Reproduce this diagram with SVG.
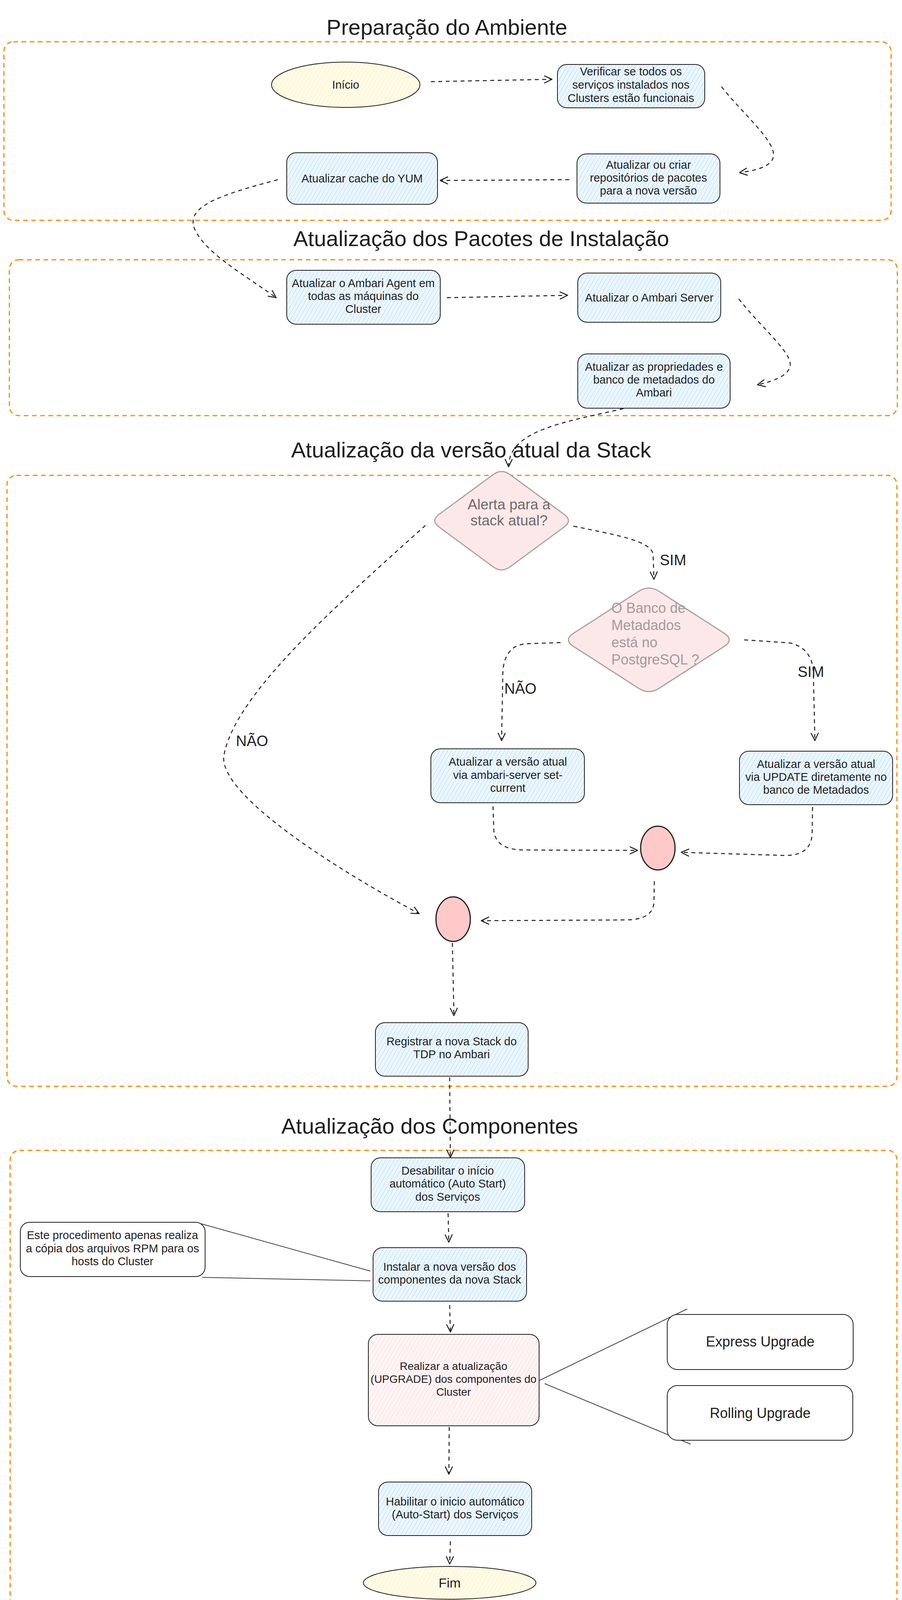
<svg xmlns="http://www.w3.org/2000/svg" width="2309" height="4265" viewBox="0 0 2309 4265">
<style>
.frame{fill:none;stroke:#f08c00;stroke-width:3;stroke-dasharray:12 9}
.title{font-family:"Liberation Sans",Arial,sans-serif;font-size:56px;fill:#1e1e1e;text-anchor:middle}
.box{stroke:#1e1e1e;stroke-width:2}
.blue{fill:url(#hBlue)}
.pinkh{fill:url(#hPink)}
.yellow{fill:url(#hYellow)}
.white{fill:#ffffff}
.t{font-family:"Liberation Sans",Arial,sans-serif;font-size:29px;fill:#1e1e1e;text-anchor:middle}
.tl{font-family:"Liberation Sans",Arial,sans-serif;font-size:36px;fill:#1e1e1e;text-anchor:middle}
.lbl{font-family:"Liberation Sans",Arial,sans-serif;font-size:38px;fill:#1e1e1e}
.dia{fill:#fde8e9;stroke:#a8a0a0;stroke-width:3}
.merge{fill:#ffc9c9;stroke:#1e1e1e;stroke-width:3}
.conn{fill:none;stroke:#1e1e1e;stroke-width:2.5;stroke-dasharray:10 9;marker-end:url(#ah)}
.link{fill:none;stroke:#444;stroke-width:2}
</style>
<defs>
<pattern id="hBlue" patternUnits="userSpaceOnUse" width="9" height="9" patternTransform="rotate(30)"><rect width="9" height="9" fill="#edf7ff"/><line x1="0" y1="0" x2="0" y2="9" stroke="#a5d8ff" stroke-width="2"/></pattern>
<pattern id="hPink" patternUnits="userSpaceOnUse" width="9" height="9" patternTransform="rotate(30)"><rect width="9" height="9" fill="#fff6f6"/><line x1="0" y1="0" x2="0" y2="9" stroke="#ffd0d0" stroke-width="2"/></pattern>
<pattern id="hYellow" patternUnits="userSpaceOnUse" width="9" height="9" patternTransform="rotate(30)"><rect width="9" height="9" fill="#fffbe8"/><line x1="0" y1="0" x2="0" y2="9" stroke="#fff0b0" stroke-width="2"/></pattern>
<marker id="ah" viewBox="-22 -13 26 26" refX="0" refY="0" markerWidth="26" markerHeight="26" markerUnits="userSpaceOnUse" orient="auto"><path d="M-19,-9 L0,0 L-19,9" fill="none" stroke="#1e1e1e" stroke-width="2.5" stroke-linecap="round" stroke-linejoin="round"/></marker>
</defs>
<rect width="2309" height="4265" fill="#ffffff"/>

<g id="sections">
<g id="section-preparacao"><rect class="frame" x="10" y="107" width="2271" height="457" rx="24"/><text class="title" x="1144" y="89">Preparação do Ambiente</text></g>
<g id="section-pacotes"><rect class="frame" x="24" y="665" width="2273" height="399" rx="24"/><text class="title" x="1232" y="630">Atualização dos Pacotes de Instalação</text></g>
<g id="section-stack"><rect class="frame" x="18" y="1217" width="2278" height="1564" rx="24"/><text class="title" x="1206" y="1171">Atualização da versão atual da Stack</text></g>
<g id="section-componentes"><rect class="frame" x="26" y="2945" width="2270" height="1310" rx="24"/><text class="title" x="1100" y="2902">Atualização dos Componentes</text></g>
</g>

<g id="connectors">
<path class="conn" d="M1103,209 L1413,203"/>
<path class="conn" d="M1847,222 C1900,290 1985,360 1980,400 C1976,425 1940,436 1893,442"/>
<path class="conn" d="M1457,460 L1127,462"/>
<path class="conn" d="M711,460 C560,500 470,530 500,590 C530,650 620,700 707,762"/>
<path class="conn" d="M1144,762 L1453,756"/>
<path class="conn" d="M1891,765 C1950,840 2025,900 2023,935 C2020,960 1985,975 1939,985"/>
<path class="conn" d="M1596,1046 C1450,1080 1302,1100 1302,1195"/>
<path class="conn" d="M1468,1347 C1580,1370 1668,1385 1672,1420 L1674,1483"/>
<path class="conn" d="M1435,1645 L1346,1648 C1300,1652 1287,1690 1287,1730 L1284,1896"/>
<path class="conn" d="M1905,1638 L2023,1646 C2060,1655 2080,1680 2082,1720 L2086,1896"/>
<path class="conn" d="M1089,1345 C850,1560 600,1780 573,1935 C560,2035 860,2225 1073,2339"/>
<path class="conn" d="M1262,2064 L1264,2125 C1268,2165 1300,2176 1345,2176 L1632,2177"/>
<path class="conn" d="M2080,2066 L2079,2135 C2077,2175 2050,2190 2010,2190 L1744,2182"/>
<path class="conn" d="M1675,2256 L1674,2310 C1672,2345 1640,2355 1600,2355 L1232,2357"/>
<path class="conn" d="M1158,2414 L1162,2600"/>
<path class="conn" d="M1151,2758 L1153,2963"/>
<path class="conn" d="M1147,3106 L1149,3180"/>
<path class="conn" d="M1151,3341 L1153,3410"/>
<path class="conn" d="M1150,3653 L1149,3774"/>
<path class="conn" d="M1153,3946 L1151,4004"/>
<path class="link" d="M512,3132 L948,3254"/>
<path class="link" d="M518,3270 L948,3279"/>
<path class="link" d="M1360,3544 L1759,3351"/>
<path class="link" d="M1394,3542 L1768,3697"/>
<text class="lbl" x="1689" y="1447">SIM</text>
<text class="lbl" x="1291" y="1776">NÃO</text>
<text class="lbl" x="2042" y="1733">SIM</text>
<text class="lbl" x="604" y="1910">NÃO</text>
</g>

<g id="inicio"><ellipse class="box yellow" cx="885" cy="217" rx="190" ry="58"/><text class="t" x="885" y="227">Início</text></g>
<g id="verificar"><rect class="box blue" x="1427" y="165" width="377" height="111" rx="24"/><text class="t" x="1615" y="193">Verificar se todos os</text><text class="t" x="1615" y="227">serviços instalados nos</text><text class="t" x="1615" y="261">Clusters estão funcionais</text></g>
<g id="repositorios"><rect class="box blue" x="1477" y="394" width="366" height="126" rx="24"/><text class="t" x="1660" y="432">Atualizar ou criar</text><text class="t" x="1660" y="465">repositórios de pacotes</text><text class="t" x="1660" y="498">para a nova versão</text></g>
<g id="cache-yum"><rect class="box blue" x="734" y="391" width="386" height="132" rx="24"/><text class="t" x="927" y="467">Atualizar cache do YUM</text></g>
<g id="ambari-agent"><rect class="box blue" x="734" y="692" width="393" height="138" rx="24"/><text class="t" x="930" y="735">Atualizar o Ambari Agent em</text><text class="t" x="930" y="768">todas as máquinas do</text><text class="t" x="930" y="801">Cluster</text></g>
<g id="ambari-server"><rect class="box blue" x="1479" y="699" width="366" height="126" rx="24"/><text class="t" x="1662" y="772">Atualizar o Ambari Server</text></g>
<g id="propriedades"><rect class="box blue" x="1479" y="906" width="390" height="139" rx="24"/><text class="t" x="1674" y="949">Atualizar as propriedades e</text><text class="t" x="1674" y="982">banco de metadados do</text><text class="t" x="1674" y="1015">Ambari</text></g>
<g id="alerta"><path class="dia" d="M1262.2,1215.1 Q1284,1199 1305.8,1215.1 L1444.2,1316.9 Q1466,1333 1444.2,1349.1 L1305.8,1450.9 Q1284,1467 1262.2,1450.9 L1123.8,1349.1 Q1102,1333 1123.8,1316.9 Z"/><text class="tl" x="1303" y="1304" style="fill:#6e6a6a;font-size:37px">Alerta para a</text><text class="tl" x="1303" y="1345" style="fill:#6e6a6a;font-size:37px">stack atual?</text></g>
<g id="postgres"><path class="dia" d="M1634.7,1513.9 Q1661,1497 1687.3,1513.9 L1853.7,1621.1 Q1880,1638 1853.7,1654.9 L1687.3,1762.1 Q1661,1779 1634.7,1762.1 L1468.3,1654.9 Q1442,1638 1468.3,1621.1 Z"/><text class="tl" x="1565" y="1569" style="fill:#a39a9a;text-anchor:start">O Banco de</text><text class="tl" x="1565" y="1613" style="fill:#a39a9a;text-anchor:start">Metadados</text><text class="tl" x="1565" y="1657" style="fill:#a39a9a;text-anchor:start">está no</text><text class="tl" x="1565" y="1701" style="fill:#a39a9a;text-anchor:start">PostgreSQL ?</text></g>
<g id="set-current"><rect class="box blue" x="1103" y="1917" width="393" height="138" rx="24"/><text class="t" x="1300" y="1960">Atualizar a versão atual</text><text class="t" x="1300" y="1994">via ambari-server set-</text><text class="t" x="1300" y="2027">current</text></g>
<g id="update-db"><rect class="box blue" x="1893" y="1923" width="392" height="137" rx="24"/><text class="t" x="2089" y="1966">Atualizar a versão atual</text><text class="t" x="2089" y="1999">via UPDATE diretamente no</text><text class="t" x="2089" y="2032">banco de Metadados</text></g>
<g id="merge-1"><ellipse class="merge" cx="1684" cy="2171" rx="44" ry="56"/></g>
<g id="merge-2"><ellipse class="merge" cx="1160" cy="2353" rx="44" ry="57"/></g>
<g id="registrar"><rect class="box blue" x="961" y="2618" width="391" height="137" rx="24"/><text class="t" x="1156" y="2676">Registrar a nova Stack do</text><text class="t" x="1156" y="2709">TDP no Ambari</text></g>
<g id="desabilitar"><rect class="box blue" x="950" y="2964" width="393" height="138" rx="24"/><text class="t" x="1146" y="3007">Desabilitar o início</text><text class="t" x="1146" y="3040">automático (Auto Start)</text><text class="t" x="1146" y="3074">dos Serviços</text></g>
<g id="nota-rpm"><rect class="box white" x="52" y="3129" width="473" height="139" rx="24"/><text class="t" x="288" y="3172">Este procedimento apenas realiza</text><text class="t" x="288" y="3206">a cópia dos arquivos RPM para os</text><text class="t" x="288" y="3239">hosts do Cluster</text></g>
<g id="instalar"><rect class="box blue" x="955" y="3194" width="393" height="137" rx="24"/><text class="t" x="1151" y="3253">Instalar a nova versão dos</text><text class="t" x="1151" y="3286">componentes da nova Stack</text></g>
<g id="realizar"><rect class="box pinkh" x="943" y="3416" width="437" height="234" rx="24"/><text class="t" x="1161" y="3507" style="font-size:28px">Realizar a atualização</text><text class="t" x="1161" y="3540" style="font-size:28px">(UPGRADE) dos componentes do</text><text class="t" x="1161" y="3573" style="font-size:28px">Cluster</text></g>
<g id="express"><rect class="box white" x="1708" y="3365" width="476" height="141" rx="26"/><text class="tl" x="1946" y="3447">Express Upgrade</text></g>
<g id="rolling"><rect class="box white" x="1708" y="3547" width="475" height="140" rx="26"/><text class="tl" x="1946" y="3630">Rolling Upgrade</text></g>
<g id="habilitar"><rect class="box blue" x="969" y="3794" width="392" height="137" rx="24"/><text class="t" x="1165" y="3854">Habilitar o inicio automático</text><text class="t" x="1165" y="3887">(Auto-Start) dos Serviços</text></g>
<g id="fim"><ellipse class="box yellow" cx="1151" cy="4052" rx="221" ry="42"/><text class="tl" x="1151" y="4064" style="font-size:34px">Fim</text></g>
</svg>
